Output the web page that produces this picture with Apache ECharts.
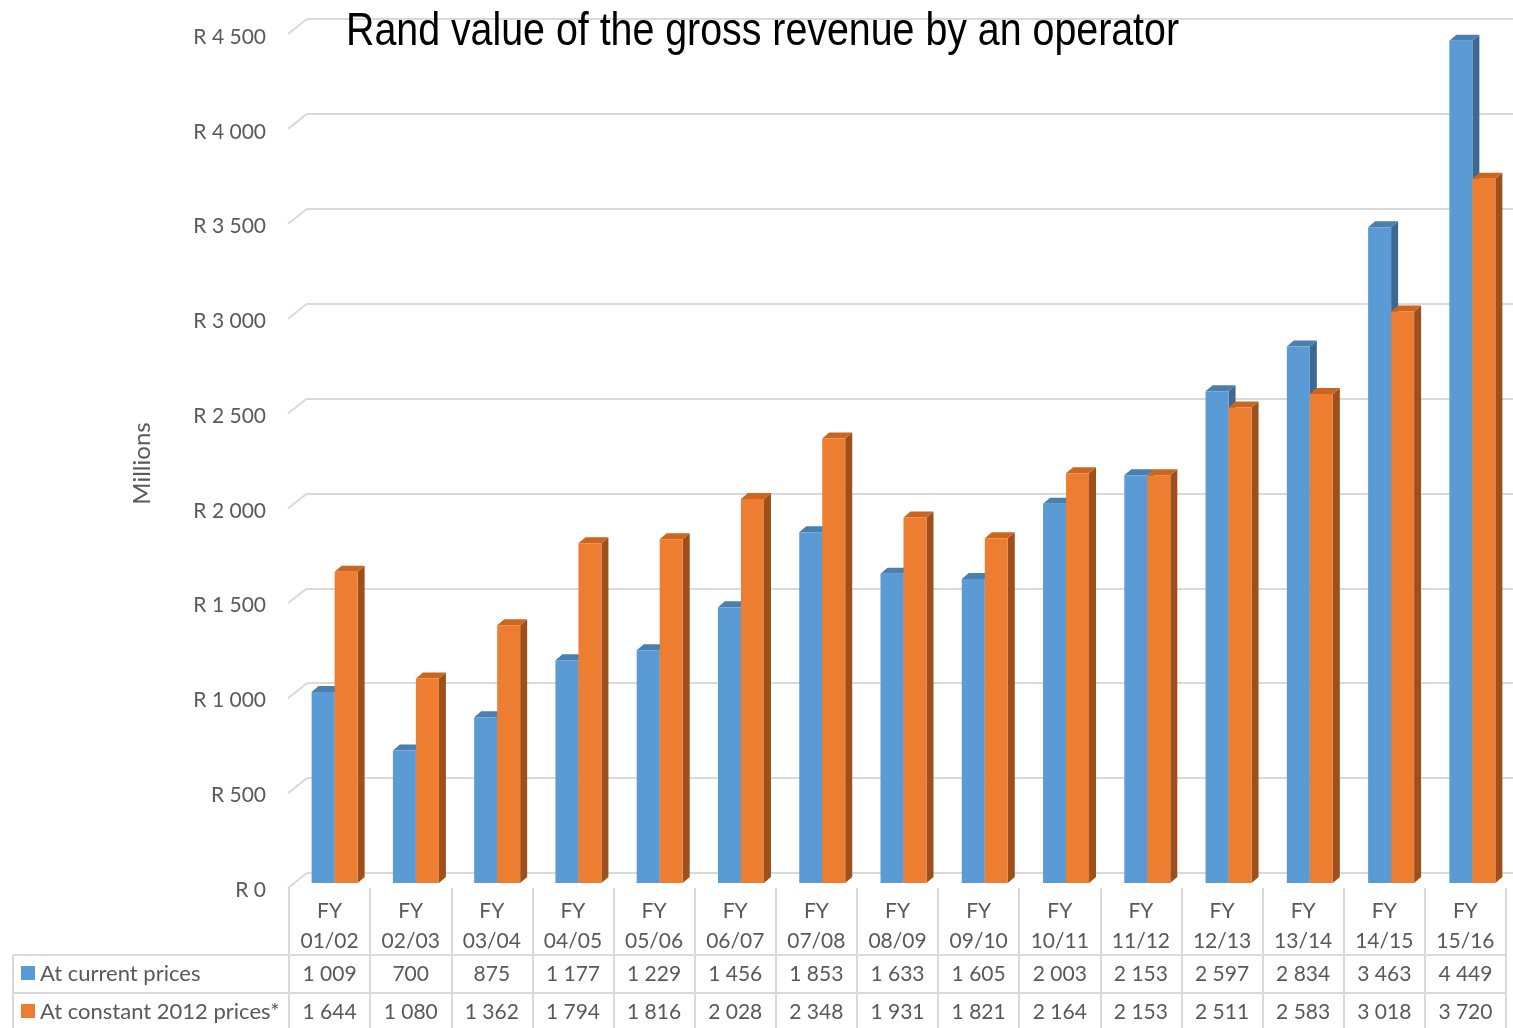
<!DOCTYPE html>
<html>
<head>
<meta charset="utf-8">
<title>Rand value of the gross revenue by an operator</title>
<script src="https://cdn.jsdelivr.net/npm/echarts@6/dist/echarts.min.js"></script>
<style>
  html, body { margin: 0; padding: 0; background: #fff; }
  #chart { width: 1513px; height: 1028px; }
</style>
</head>
<body>
<div id="chart"></div>
<script>
// Financial years on the category axis
const periods = ['01/02', '02/03', '03/04', '04/05', '05/06', '06/07', '07/08', '08/09',
                 '09/10', '10/11', '11/12', '12/13', '13/14', '14/15', '15/16'];
// Gross revenue, R millions
const currentPrices = [1009, 700, 875, 1177, 1229, 1456, 1853, 1633, 1605, 2003, 2153, 2597, 2834, 3463, 4449];
const constantPrices = [1644, 1080, 1362, 1794, 1816, 2028, 2348, 1931, 1821, 2164, 2153, 2511, 2583, 3018, 3720];
const seriesNames = ['At current prices', 'At constant 2012 prices*'];
// Value axis ticks
const valueTicks = [0, 500, 1000, 1500, 2000, 2500, 3000, 3500, 4000, 4500];

const FONT = 'Lato, "Open Sans", sans-serif';
const TEXT = '#595959';
const RULE = '#d9d9d9';
const COLORS = [
  { front: '#5b9bd5', top: '#4a7fb0', side: '#3d6892' },
  { front: '#ed7d31', top: '#cc661f', side: '#9e501c' }
];
const DEPTH_X = 7, DEPTH_Y = -6;     // extrusion of each column
const WALL_X = 19, WALL_Y = 15;      // side wall: back wall -> front edge
const BAR_FRAC = 0.283;              // width of one column as a share of its category

const fmt = n => String(n).replace(/\B(?=(\d{3})+(?!\d))/g, ' ');

function columnRenderer(slot) {
  return function (params, api) {
    const i = api.value(0), v = api.value(1);
    const top = api.coord([i, v]);
    const base = api.coord([i, 0]);
    const w = api.size([1, 0])[0] * BAR_FRAC;
    const x0 = slot === 0 ? top[0] - w : top[0];
    const x1 = x0 + w;
    const yT = top[1], yB = base[1];
    const c = COLORS[slot];
    return {
      type: 'group',
      children: [
        { type: 'polygon', shape: { points: [[x1, yT], [x1 + DEPTH_X, yT + DEPTH_Y], [x1 + DEPTH_X, yB + DEPTH_Y], [x1, yB]] },
          style: { fill: c.side } },
        { type: 'polygon', shape: { points: [[x0, yT], [x0 + DEPTH_X, yT + DEPTH_Y], [x1 + DEPTH_X, yT + DEPTH_Y], [x1, yT]] },
          style: { fill: c.top } },
        { type: 'rect', shape: { x: x0, y: yT, width: w, height: yB - yT }, style: { fill: c.front } }
      ]
    };
  };
}

const chart = echarts.init(document.getElementById('chart'), null, { renderer: 'canvas' });

const tableTop = 888, row1 = 955, row2 = 993, tableLeft = 13, tableRight = 1506;

const option = {
  animation: false,
  backgroundColor: '#ffffff',
  textStyle: { fontFamily: FONT },
  grid: [
    // back wall
    { left: 307, top: 19, height: 854, right: 0 },
    // column plane
    { left: 294, top: 31, height: 852, width: 1221 },
    // front edge of the side wall (value labels)
    { left: 288, top: 37, height: 853, width: 1 },
    // data table
    { left: 289, top: tableTop, height: 1028 - tableTop, width: tableRight - 289 }
  ],
  xAxis: [
    { gridIndex: 0, type: 'value', min: 0, max: 1, show: false },
    { gridIndex: 1, type: 'category', data: periods, show: false, boundaryGap: true },
    { gridIndex: 2, type: 'value', min: 0, max: 1, show: false },
    { gridIndex: 3, type: 'category', data: periods, position: 'top', boundaryGap: true,
      axisLine: { show: false }, axisTick: { show: false },
      splitLine: { show: true, lineStyle: { color: RULE, width: 2 } },
      axisLabel: { inside: true, margin: 8, interval: 0, fontSize: 21, lineHeight: 30,
                   color: TEXT, fontFamily: FONT, formatter: v => 'FY\n' + v } },
    { gridIndex: 3, type: 'category', data: periods, position: 'top', boundaryGap: true,
      axisLine: { show: false }, axisTick: { show: false }, splitLine: { show: false },
      axisLabel: { inside: true, margin: 71, interval: 0, fontSize: 21, lineHeight: 30,
                   color: TEXT, fontFamily: FONT, formatter: (v, i) => fmt(currentPrices[i]) } },
    { gridIndex: 3, type: 'category', data: periods, position: 'top', boundaryGap: true,
      axisLine: { show: false }, axisTick: { show: false }, splitLine: { show: false },
      axisLabel: { inside: true, margin: 109, interval: 0, fontSize: 21, lineHeight: 30,
                   color: TEXT, fontFamily: FONT, formatter: (v, i) => fmt(constantPrices[i]) } }
  ],
  yAxis: [
    { gridIndex: 0, type: 'value', min: 0, max: 4500, interval: 500,
      axisLine: { show: false }, axisTick: { show: false }, axisLabel: { show: false },
      splitLine: { show: true, lineStyle: { color: RULE, width: 2 } } },
    { gridIndex: 1, type: 'value', min: 0, max: 4500, interval: 500, show: false },
    { gridIndex: 2, type: 'value', min: 0, max: 4500, interval: 500,
      axisLine: { show: false }, axisTick: { show: false }, splitLine: { show: false },
      axisLabel: { margin: 22, fontSize: 21, color: TEXT, fontFamily: FONT,
                   formatter: v => 'R ' + fmt(v) },
      name: 'Millions', nameLocation: 'middle', nameRotate: 90, nameGap: 134,
      nameTextStyle: { fontSize: 24, color: TEXT, fontFamily: FONT } },
    { gridIndex: 3, type: 'value', min: 0, max: 1, show: false }
  ],
  series: [
    {
      // side wall rules running from the back wall to the front edge
      type: 'custom', xAxisIndex: 0, yAxisIndex: 0, silent: true,
      data: valueTicks.map(v => [0, v]),
      renderItem: (params, api) => {
        const p = api.coord([0, api.value(1)]);
        return { type: 'line', shape: { x1: p[0], y1: p[1], x2: p[0] - WALL_X, y2: p[1] + WALL_Y },
                 style: { stroke: RULE, lineWidth: 2 } };
      }
    },
    {
      name: seriesNames[0], type: 'custom', xAxisIndex: 1, yAxisIndex: 1,
      data: currentPrices.map((v, i) => [i, v]),
      renderItem: columnRenderer(0)
    },
    {
      name: seriesNames[1], type: 'custom', xAxisIndex: 1, yAxisIndex: 1,
      data: constantPrices.map((v, i) => [i, v]),
      renderItem: columnRenderer(1)
    }
  ],
  graphic: [
    { type: 'text', x: 346, y: 32, scaleX: 0.855, z: 10,
      style: { text: 'Rand value of the gross revenue by an operator',
               font: '46px "Liberation Sans", Arial, sans-serif', fill: '#000',
               verticalAlign: 'middle', align: 'left' } },
    // table rules
    { type: 'line', shape: { x1: tableLeft, y1: row1, x2: tableRight, y2: row1 }, style: { stroke: RULE, lineWidth: 2 } },
    { type: 'line', shape: { x1: tableLeft, y1: row2, x2: tableRight, y2: row2 }, style: { stroke: RULE, lineWidth: 2 } },
    { type: 'line', shape: { x1: tableLeft, y1: row1, x2: tableLeft, y2: 1028 }, style: { stroke: RULE, lineWidth: 2 } },
    // row headers with their keys
    { type: 'rect', shape: { x: 21, y: 966, width: 14, height: 14 }, style: { fill: COLORS[0].front } },
    { type: 'text', x: 40, y: 974, style: { text: seriesNames[0], font: '22px ' + FONT, fill: TEXT, verticalAlign: 'middle' } },
    { type: 'rect', shape: { x: 21, y: 1004, width: 14, height: 14 }, style: { fill: COLORS[1].front } },
    { type: 'text', x: 40, y: 1012, style: { text: seriesNames[1], font: '22px ' + FONT, fill: TEXT, verticalAlign: 'middle' } }
  ]
};

chart.setOption(option);
</script>
</body>
</html>
